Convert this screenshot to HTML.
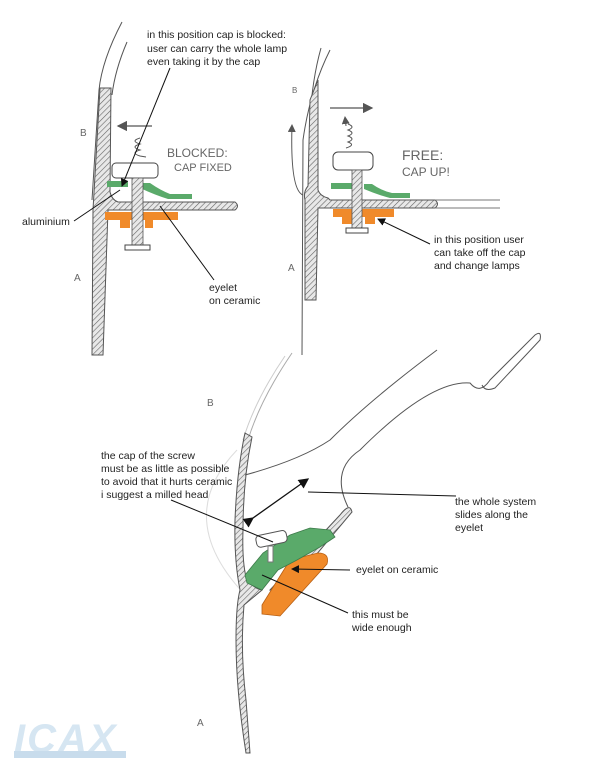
<!DOCTYPE html>
<html><head><meta charset="utf-8"><style>
html,body{margin:0;padding:0;background:#fff;}
svg{display:block;}
text{font-family:"Liberation Sans",sans-serif;font-size:10.5px;fill:#222;}
.h{font-family:"Liberation Sans",sans-serif;font-size:13px;fill:#666;}
</style></head><body>
<svg width="600" height="764" viewBox="0 0 600 764" xmlns="http://www.w3.org/2000/svg">
<defs>
<pattern id="hat" width="4" height="4" patternUnits="userSpaceOnUse" patternTransform="rotate(45)">
<rect width="4" height="4" fill="#e8e8e8"/><line x1="0" y1="0" x2="0" y2="4" stroke="#666" stroke-width="1.2"/>
</pattern>
<marker id="ar" markerWidth="8" markerHeight="8" refX="7" refY="4" orient="auto"><path d="M0,0 L8,4 L0,8z" fill="#111"/></marker>
<marker id="ag" markerWidth="8" markerHeight="8" refX="7" refY="4" orient="auto"><path d="M0,0 L8,4 L0,8z" fill="#555"/></marker>
</defs>

<!-- LEFT PANEL -->
<path d="M122,22 Q102,60 99,90 L92,200" fill="none" stroke="#555" stroke-width="1"/>
<path d="M127,42 Q115,70 112,95" fill="none" stroke="#555" stroke-width="1"/>
<path d="M100,88 L111,88 L110,192 Q112,200 118,202 L235,202 Q240,206 235,210 L108,210 L103,355 L92,355 L93,210 Z" fill="url(#hat)" stroke="#555" stroke-width="1"/>
<rect x="105" y="212" width="73" height="8" fill="#f08a2a"/>
<rect x="120" y="219" width="10" height="9" fill="#f08a2a"/>
<rect x="145" y="219" width="8" height="9" fill="#f08a2a"/>
<path d="M107,181 L128,181 L128,187 L107,187 Z" fill="#5aaa6a"/>
<path d="M140,183 L150,183 Q160,190 170,194 L192,194 L192,199 L168,199 Q155,195 140,188 Z" fill="#5aaa6a"/>
<rect x="112" y="163" width="46" height="15" rx="4" fill="#fff" stroke="#444"/>
<rect x="132" y="178" width="11" height="68" fill="url(#hat)" stroke="#555" stroke-width=".8"/>
<rect x="125" y="245" width="25" height="5" fill="#fff" stroke="#444"/>
<line x1="152" y1="126" x2="118" y2="126" stroke="#555" stroke-width="1.3" marker-end="url(#ag)"/>
<path d="M140,138 q-10,3 0,6 q-10,3 0,6 q-10,3 0,6 l6,1" fill="none" stroke="#555"/>
<text class="h" x="167" y="157" style="font-size:12px">BLOCKED:</text>
<text class="h" x="174" y="171" style="font-size:11px">CAP FIXED</text>
<text class="h" x="80" y="136" style="font-size:10px">B</text>
<text class="h" x="74" y="281" style="font-size:10px">A</text>
<text x="147" y="38">in this position cap is blocked:</text>
<text x="147" y="52">user can carry the whole lamp</text>
<text x="147" y="65">even taking it by the cap</text>
<line x1="170" y1="68" x2="122" y2="186" stroke="#111" marker-end="url(#ar)"/>
<text x="22" y="225">aluminium</text>
<line x1="74" y1="221" x2="120" y2="190" stroke="#111"/>
<text x="209" y="291">eyelet</text>
<text x="209" y="304">on ceramic</text>
<line x1="214" y1="280" x2="160" y2="206" stroke="#111"/>

<!-- RIGHT PANEL -->
<path d="M330,50 Q310,90 303,140 L302,355" fill="none" stroke="#555"/>
<path d="M321,48 Q312,80 310,120" fill="none" stroke="#555"/>
<path d="M318,80 L318,190 Q320,196 328,198 L330,200 L435,200 Q440,204 435,208 L318,208 L316,300 L305,300 L305,200 Q303,192 308,186 L310,100 Z" fill="url(#hat)" stroke="#555"/>
<line x1="435" y1="200" x2="500" y2="200" stroke="#777"/>
<line x1="435" y1="208" x2="500" y2="208" stroke="#777"/>
<rect x="333" y="209" width="61" height="8" fill="#f08a2a"/>
<rect x="342" y="216" width="10" height="8" fill="#f08a2a"/>
<rect x="365" y="216" width="10" height="8" fill="#f08a2a"/>
<rect x="331" y="183" width="22" height="6" fill="#5aaa6a"/>
<path d="M364,184 L372,184 Q382,191 392,193 L410,193 L410,198 L390,198 Q378,195 364,189 Z" fill="#5aaa6a"/>
<rect x="333" y="152" width="40" height="18" rx="5" fill="#fff" stroke="#444"/>
<rect x="352" y="170" width="10" height="60" fill="url(#hat)" stroke="#555" stroke-width=".8"/>
<rect x="346" y="228" width="22" height="5" fill="#fff" stroke="#444"/>
<line x1="330" y1="108" x2="372" y2="108" stroke="#555" stroke-width="1.3" marker-end="url(#ag)"/>
<path d="M348,124 q8,3 0,6 q8,3 0,6 q8,3 0,6 q8,3 -2,6" fill="none" stroke="#555"/>
<line x1="346" y1="126" x2="345" y2="117" stroke="#555" marker-end="url(#ag)"/>
<path d="M303,195 Q290,190 292,125" fill="none" stroke="#555" marker-end="url(#ag)"/>
<text class="h" x="402" y="160" style="font-size:14px">FREE:</text>
<text class="h" x="402" y="176" style="font-size:12px">CAP UP!</text>
<text class="h" x="292" y="93" style="font-size:8px">B</text>
<text class="h" x="288" y="271" style="font-size:10px">A</text>
<text x="434" y="243">in this position user</text>
<text x="434" y="256">can take off the cap</text>
<text x="434" y="269">and change lamps</text>
<line x1="430" y1="244" x2="378" y2="219" stroke="#111" marker-end="url(#ar)"/>

<!-- BOTTOM -->
<path d="M292,353 Q260,400 248,440" fill="none" stroke="#aaa"/>
<path d="M285,356 Q255,400 243,440" fill="none" stroke="#ccc"/>
<path d="M237,450 Q170,520 250,600" fill="none" stroke="#ddd"/>
<!-- wall strip -->
<path d="M245,433 L252,437 Q243,480 243,530 Q242,560 246,577 Q252,588 262,590 L244,605 Q240,650 246,700 L250,753 L246,753 Q236,690 236,640 Q236,605 240,590 Q234,560 235,520 Q237,470 245,433 Z" fill="url(#hat)" stroke="#555"/>
<path d="M245,475 Q300,460 330,440 Q370,400 437,350" fill="none" stroke="#555"/>
<path d="M348,507 Q330,470 360,450 Q430,380 470,383 Q480,395 490,380 L535,335 Q542,330 540,340 L495,388 Q485,392 482,385" fill="none" stroke="#555"/>
<!-- diagonal strip -->
<path d="M270,590 L340,515 Q350,502 352,512 L285,592 Z" fill="url(#hat)" stroke="#555"/>
<!-- orange -->
<path d="M262,605 L290,560 L318,553 Q330,553 327,564 L280,616 L262,614 Z" fill="#f08a2a" stroke="#b86015" stroke-width=".8"/>
<!-- green -->
<path d="M245,575 L263,553 L290,535 L310,528 L330,530 L335,537 L320,547 L297,560 L278,570 L262,590 L247,583 Z" fill="#5aaa6a" stroke="#3d7a4a" stroke-width=".8"/>
<rect x="256" y="533" width="31" height="12" rx="4" fill="#fff" stroke="#555" transform="rotate(-12 271 539)"/>
<rect x="268" y="546" width="5" height="16" fill="#fff" stroke="#777"/>
<line x1="253" y1="518" x2="308" y2="479" stroke="#111" stroke-width="1.3" marker-end="url(#ar)" marker-start="url(#ar)"/>
<line x1="308" y1="492" x2="456" y2="496" stroke="#111"/>
<line x1="171" y1="500" x2="273" y2="542" stroke="#111"/>
<line x1="350" y1="570" x2="292" y2="569" stroke="#111" marker-end="url(#ar)"/>
<line x1="262" y1="575" x2="348" y2="613" stroke="#111"/>
<text class="h" x="207" y="406" style="font-size:10px">B</text>
<text class="h" x="197" y="726" style="font-size:10px">A</text>
<text x="101" y="459">the cap of the screw</text>
<text x="101" y="472">must be as little as possible</text>
<text x="101" y="485">to avoid that it hurts ceramic</text>
<text x="101" y="498">i suggest a milled head</text>
<text x="455" y="505">the whole system</text>
<text x="455" y="518">slides along the</text>
<text x="455" y="531">eyelet</text>
<text x="356" y="573">eyelet on ceramic</text>
<text x="352" y="618">this must be</text>
<text x="352" y="631">wide enough</text>

<!-- logo -->
<text x="14" y="752" style="font-size:40px;font-style:italic;font-weight:bold;fill:#d6e6f2;letter-spacing:2px">ICAX</text>
<rect x="14" y="751" width="112" height="7" fill="#c8dcec"/>
</svg>
</body></html>
